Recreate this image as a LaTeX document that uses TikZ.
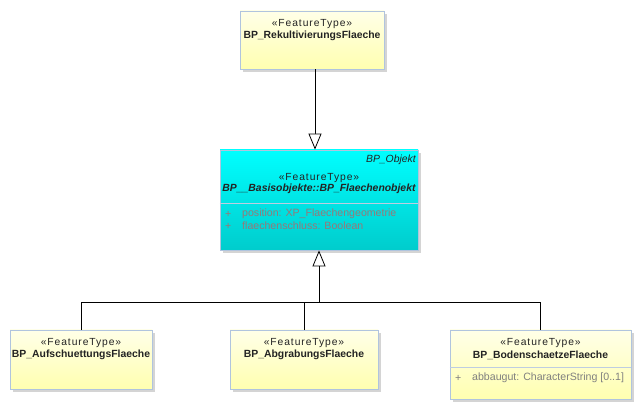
\documentclass[tikz,border=0pt]{standalone}
\usepackage{fontspec}
\setmainfont{Liberation Sans}
\usetikzlibrary{arrows.meta,shadows}
\definecolor{bordc}{RGB}{176,196,222}
\definecolor{sepc}{RGB}{190,205,225}
\definecolor{ytop}{RGB}{255,255,232}
\definecolor{ybot}{RGB}{255,255,176}
\definecolor{ctop}{RGB}{0,255,255}
\definecolor{cbot}{RGB}{0,204,204}
\definecolor{txt}{RGB}{35,35,35}
\definecolor{attry}{RGB}{128,128,128}
\definecolor{attrc}{RGB}{150,120,120}
\definecolor{shadc}{RGB}{212,212,212}
\tikzset{
  ybox/.style={draw=bordc, line width=0.8pt, top color=ytop, bottom color=ybot, inner sep=0pt,
    drop shadow={shadow xshift=3pt, shadow yshift=-3pt, fill=shadc, opacity=1}},
  cbox/.style={draw=bordc, line width=0.8pt, top color=ctop, bottom color=cbot, inner sep=0pt,
    drop shadow={shadow xshift=3pt, shadow yshift=-3pt, fill=shadc, opacity=1}},
  stereo/.style={font=\fontsize{10.3}{12}\selectfont\addfontfeatures{LetterSpace=9}, text=txt, inner sep=0pt},
  cname/.style={font=\fontsize{10.4}{12}\selectfont\bfseries, text=txt, inner sep=0pt},
  attr/.style={font=\fontsize{10.6}{12}\selectfont, inner sep=0pt, anchor=west},
  gen/.style={line width=0.8pt, -{Triangle[length=16pt,width=13pt,fill=white,line width=0.8pt]}},
  conn/.style={line width=0.8pt}
}
\begin{document}
\begin{tikzpicture}[x=1pt,y=1pt]
\useasboundingbox (0,0) rectangle (641,410);
% boxes
\node[ybox, minimum width=144pt, minimum height=58pt] (top) at (312,370) {};
\node[cbox, minimum width=198pt, minimum height=100pt] (mid) at (319,210) {};
\node[ybox, minimum width=142pt, minimum height=59pt] (b1) at (81,50.5) {};
\node[ybox, minimum width=148pt, minimum height=59pt] (b2) at (304,50.5) {};
\node[ybox, minimum width=181pt, minimum height=69pt] (b3) at (540.5,45.5) {};
% separators
\draw[sepc, line width=0.8pt] (mid.west |- 0,207) -- (mid.east |- 0,207);
\draw[sepc, line width=0.8pt] (b3.west |- 0,43) -- (b3.east |- 0,43);
% texts: top
\node[stereo] (ts) at (312,386) {«FeatureType»};
\node[cname] (tn) at (312,374) {BP\_RekultivierungsFlaeche};
% mid
\node[font=\fontsize{10.4}{12}\selectfont\itshape, text=txt, inner sep=0pt, anchor=east] (mo) at (416,250) {BP\_Objekt};
\node[stereo] (ms) at (319,232) {«FeatureType»};
\node[cname, font=\fontsize{10.4}{12}\selectfont\bfseries\itshape] (mn) at (319,221) {BP\_\_Basisobjekte::BP\_Flaechenobjekt};
\node[attr, text=attrc] (mp1) at (225,196) {+};
\node[attr, text=attrc] (ma1) at (242,196) {position: XP\_Flaechengeometrie};
\node[attr, text=attrc] (mp2) at (225,184) {+};
\node[attr, text=attrc] (ma2) at (242,184) {flaechenschluss: Boolean};
% bottom
\node[stereo] (s1) at (81,67) {«FeatureType»};
\node[cname] (n1) at (81,55) {BP\_AufschuettungsFlaeche};
\node[stereo] (s2) at (304,67) {«FeatureType»};
\node[cname] (n2) at (304,55) {BP\_AbgrabungsFlaeche};
\node[stereo] (s3) at (540.5,67) {«FeatureType»};
\node[cname] (n3) at (540.5,55) {BP\_BodenschaetzeFlaeche};
\node[attr, text=attry] (bp) at (455,32) {+};
\node[attr, text=attry] (ba) at (472,32) {abbaugut: CharacterString [0..1]};
% connectors
\coordinate (a1) at (315,300);
\draw[gen] (top.south -| a1) -- (a1 |- mid.north);
\coordinate (j) at (319,108);
\draw[conn] (b1.north) |- (j);
\draw[conn] (b3.north) |- (j);
\draw[conn] (b2.north) -- (b2.north |- j);
\draw[gen] (j) -- (mid.south);
\end{tikzpicture}
\end{document}
